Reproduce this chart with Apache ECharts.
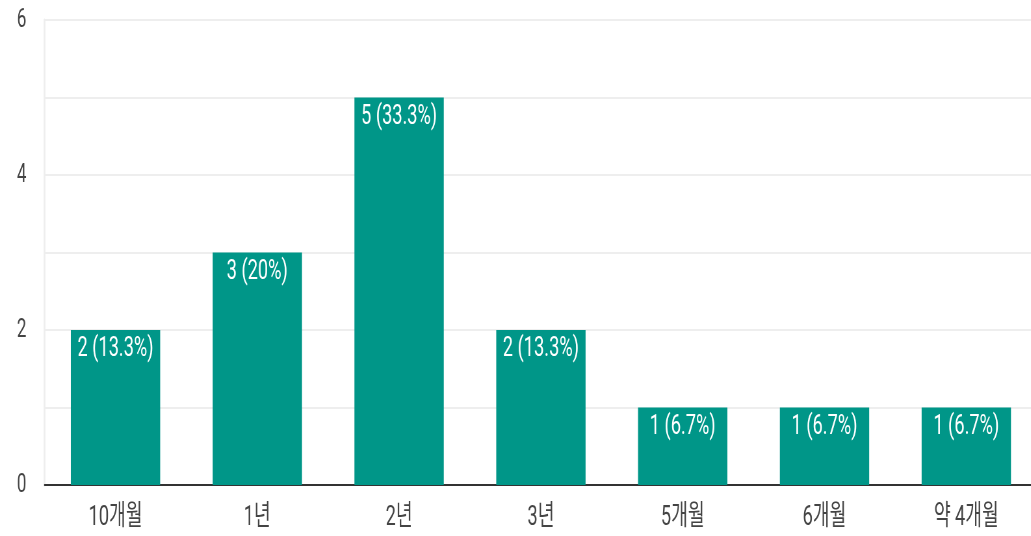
<!DOCTYPE html>
<html><head><meta charset="utf-8">
<script src="https://cdn.jsdelivr.net/npm/echarts@6/dist/echarts.min.js"></script>
<style>
html,body{margin:0;padding:0;background:#fff;overflow:hidden;width:1031px;height:536px}
#c{width:1600px;height:536px;transform:scaleX(0.65);transform-origin:0 0}
</style>
</head><body><div id="c"></div>
<script>
const categories = ['10개월', '1년', '2년', '3년', '5개월', '6개월', '약 4개월'];
const counts = [2, 3, 5, 2, 1, 1, 1];
const percents = ['13.3%', '20%', '33.3%', '13.3%', '6.7%', '6.7%', '6.7%'];
const yTickLabels = [0, 2, 4, 6];

const SX = 0.65; // horizontal compression of the reference's text
const FONT = "'Roboto', 'Noto Sans CJK KR', sans-serif";
const chart = echarts.init(document.getElementById('c'), null, {renderer: 'canvas'});
chart.setOption({
  animation: false,
  grid: {left: 44.6 / SX, width: 992.6 / SX, top: 20, bottom: 51},
  xAxis: {
    type: 'category', data: categories,
    axisLine: {show: true, lineStyle: {color: '#333', width: 2}},
    axisTick: {show: false},
    axisLabel: {color: '#444', fontSize: 28, fontFamily: FONT, margin: 19}
  },
  yAxis: {
    type: 'value', min: 0, max: 6, interval: 1,
    axisLine: {show: true, lineStyle: {color: '#eeeeee', width: 3}},
    axisTick: {show: false},
    splitLine: {lineStyle: {color: '#eeeeee', width: 2}},
    axisLabel: {
      color: '#444', fontSize: 26, fontFamily: FONT, margin: 28,
      formatter: v => yTickLabels.includes(v) ? String(v) : ''
    }
  },
  series: [{
    type: 'bar', data: counts, barWidth: '63%',
    itemStyle: {color: '#009688'},
    label: {
      show: true, position: 'insideTop', distance: 5,
      color: '#fff', fontSize: 28, fontFamily: FONT,
      formatter: p => p.value + ' (' + percents[p.dataIndex] + ')'
    }
  }]
});
</script></body></html>
